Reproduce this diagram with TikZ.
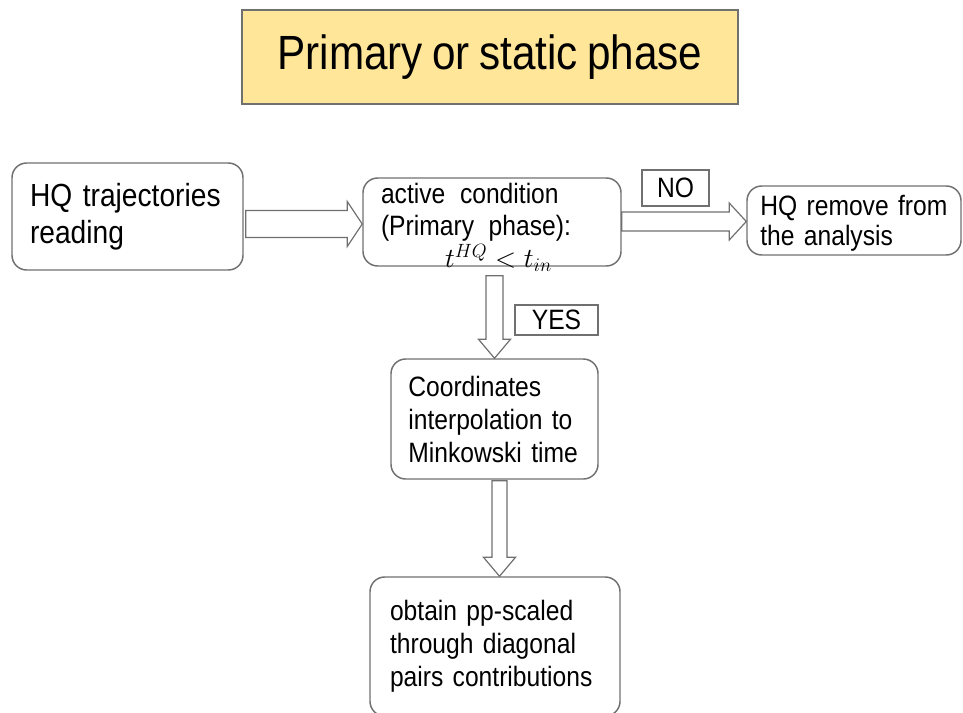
\documentclass[tikz,border=0pt]{standalone}
\usepackage{fontspec}
\setmainfont{Liberation Sans}[FakeStretch=0.88, WordSpace=0.8]
\usetikzlibrary{calc}
\definecolor{boxgray}{RGB}{112,112,112}
\definecolor{titleyellow}{RGB}{255,230,153}

% hollow block arrows: #1 tail, #2 tip, #3 half shaft, #4 half head, #5 head length
\newcommand{\blockright}[5]{%
  \draw[hollow] ($#1+(0,-#3)$) -- ($#2+(-#5,-#3)$) -- ($#2+(-#5,-#4)$) -- #2
    -- ($#2+(-#5,#4)$) -- ($#2+(-#5,#3)$) -- ($#1+(0,#3)$) -- cycle;}
\newcommand{\blockdown}[5]{%
  \draw[hollow] ($#1+(-#3,0)$) -- ($#2+(-#3,-#5)$) -- ($#2+(-#4,-#5)$) -- #2
    -- ($#2+(#4,-#5)$) -- ($#2+(#3,-#5)$) -- ($#1+(#3,0)$) -- cycle;}

\begin{document}
\begin{tikzpicture}[x=0.75pt, y=-0.75pt,
  box/.style={draw=boxgray, line width=1.1pt, rounded corners=11pt, align=left, inner ysep=0pt},
  tag/.style={draw=boxgray, line width=1pt, inner sep=0pt, font=\fontsize{21pt}{24pt}\selectfont},
  hollow/.style={draw=boxgray, fill=white, line width=0.9pt, line join=miter}]
\useasboundingbox (0,0) rectangle (963,713);

\node [draw=boxgray, fill=titleyellow, line width=1pt, minimum width=372pt, minimum height=70.5pt,
  font=\fontsize{36pt}{40pt}\selectfont] (title) at (490,57) {Primary or static phase};

\node [box, inner xsep=13.5pt, text width=146.25pt, minimum height=80.25pt,
  font=\fontsize{24pt}{27.75pt}\selectfont] (hq) at (127.5,216.5) {HQ trajectories\\reading};
\node [box, inner xsep=13.5pt, minimum height=66pt,
  font=\fontsize{21pt}{24pt}\selectfont] (act) at (492,222)
  {\raisebox{-9pt}[33pt][33pt]{\parbox[c]{166.5pt}{\raggedright
    active\hspace{11pt}condition\\(Primary\hspace{11pt}phase):\\\hspace*{48pt}$t^{HQ}<t_{in}$}}};
\node [box, inner xsep=10pt, text width=140.5pt, minimum height=51.75pt,
  font=\fontsize{21pt}{22.5pt}\selectfont] (rm) at (854,220.5) {\rule{0pt}{19pt}HQ remove from\\the analysis};
\node [box, inner xsep=13pt, text width=129.25pt, minimum height=90pt,
  font=\fontsize{21pt}{24.75pt}\selectfont] (cd) at (494.5,419)
  {Coordinates\\interpolation to\\Minkowski time};
\node [box, inner xsep=15pt, text width=157.5pt, minimum height=104.25pt,
  font=\fontsize{21pt}{24.75pt}\selectfont] (ob) at (495,646.5)
  {obtain pp-scaled\\through diagonal\\pairs contributions};

\node [tag, minimum width=50.25pt, minimum height=27pt] (no) at (675.5,188) {NO};
\node [tag, minimum width=62.25pt, minimum height=22.5pt] (yes) at (556.5,320) {YES};

% arrows
\coordinate (ab) at ($(hq.east)+(2,7.5)$);
\coordinate (abtip) at (act.west |- ab);
\blockright{(ab)}{(abtip)}{13.5}{22.5}{15}
\coordinate (bc) at ($(act.east)+(0,-0.5)$);
\coordinate (bctip) at (rm.west |- bc);
\blockright{(bc)}{(bctip)}{9.5}{18.5}{17}
\coordinate (bd) at ($(cd.north |- act.south)+(0,9)$);
\blockdown{(bd)}{(cd.north)}{8.5}{16}{19}
\coordinate (de) at ($(cd.south)+(5,1)$);
\coordinate (detip) at (de |- ob.north);
\blockdown{(de)}{(detip)}{7.5}{16}{19}
\end{tikzpicture}
\end{document}
